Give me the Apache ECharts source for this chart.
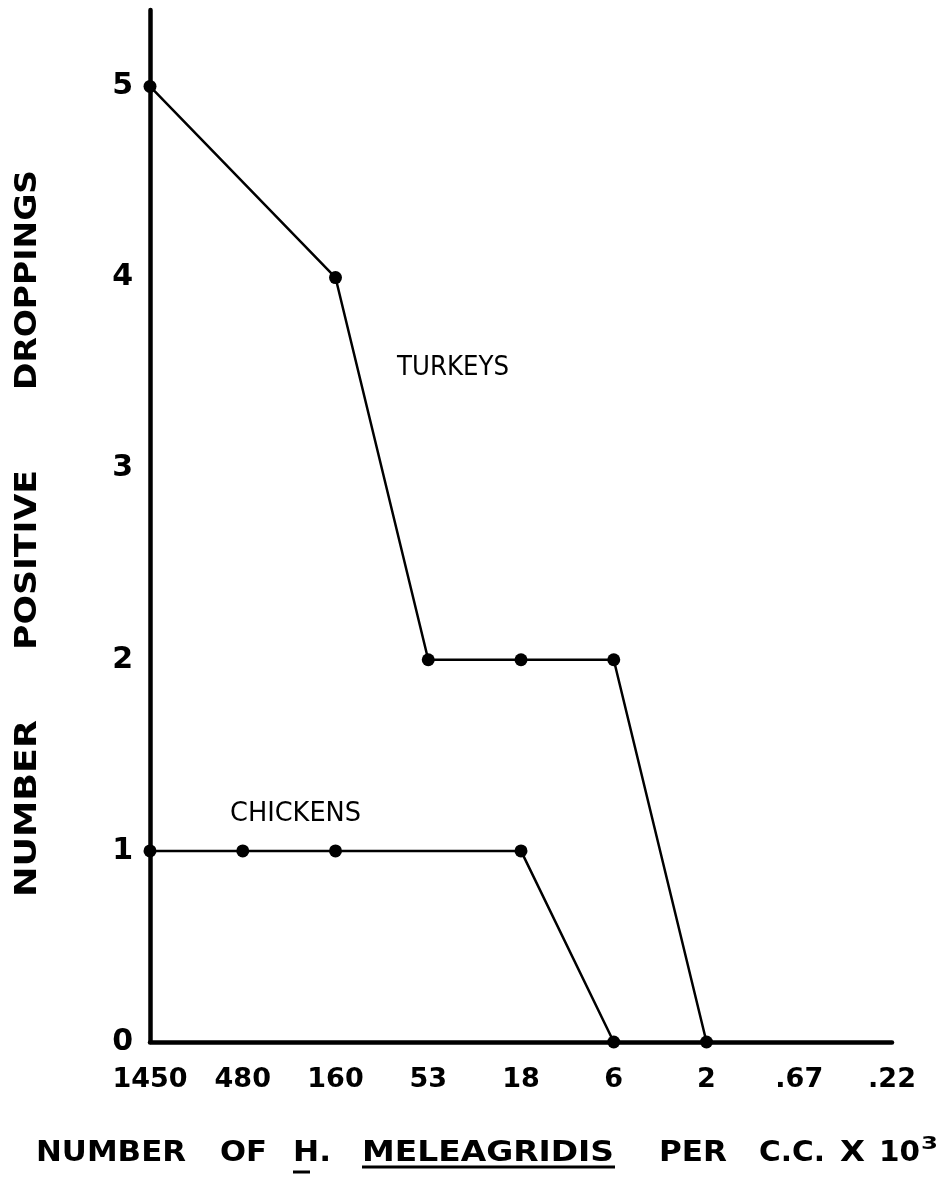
<!DOCTYPE html>
<html><head><meta charset="utf-8">
<script src="https://cdn.jsdelivr.net/npm/echarts@6/dist/echarts.min.js"></script>
<style>html,body{margin:0;padding:0;background:#fff}#c{width:947px;height:1177px}</style>
</head><body><div id="c"></div>
<script>
const categories = ['1450','480','160','53','18','6','2','.67','.22'];
const turkeys = [5, null, 4, 2, 2, 2, 0, null, null];
const chickens = [1, 1, 1, null, 1, 0, null, null, null];
const yTicks = [0,1,2,3,4,5];
const xTitleWords = ['NUMBER','OF','H.','MELEAGRIDIS','PER','C.C.','X','10','3'];
const yTitleWords = ['NUMBER','POSITIVE','DROPPINGS'];

const FONT = '"DejaVu Sans", sans-serif';
const ctx = document.createElement('canvas').getContext('2d');
function measure(t, size, weight) {
  ctx.font = (weight || 'normal') + ' ' + size + 'px ' + FONT;
  return ctx.measureText(t).width;
}
// place a word so it spans [a,b] along its reading direction
function fitWord(t, a, b, c, size, weight, vertical) {
  const w = measure(t, size, weight);
  const s = Math.abs(b - a) / w;
  const mid = (a + b) / 2;
  return {
    type: 'text', x: vertical ? c : mid, y: vertical ? mid : c,
    rotation: vertical ? Math.PI / 2 : 0,
    scaleX: s, silent: true,
    style: {text: t, fill: '#000', fontSize: size, fontWeight: weight || 'normal',
            fontFamily: FONT, align: 'center', verticalAlign: 'middle'}
  };
}
const TW = 'bold';
const graphics = [
  fitWord('TURKEYS', 397, 509, 368, 27, 'normal', false),
  fitWord('CHICKENS', 230, 361, 814, 27, 'normal', false),
  // x-axis title
  fitWord(xTitleWords[0], 36, 186, 1153, 29, TW, false),
  fitWord(xTitleWords[1], 220, 267, 1153, 29, TW, false),
  fitWord(xTitleWords[2], 293, 331, 1153, 29, TW, false),
  fitWord(xTitleWords[3], 362, 614, 1153, 29, TW, false),
  fitWord(xTitleWords[4], 659, 727, 1153, 29, TW, false),
  fitWord(xTitleWords[5], 759, 825, 1153, 29, TW, false),
  fitWord(xTitleWords[6], 840, 865, 1153, 29, TW, false),
  fitWord(xTitleWords[7], 879, 920, 1153, 29, TW, false),
  fitWord(xTitleWords[8], 921, 938, 1144, 18, 'bold', false),
  // underlines
  {type: 'line', silent: true, shape: {x1: 293, y1: 1172, x2: 310, y2: 1172}, style: {stroke: '#000', lineWidth: 3}},
  {type: 'line', silent: true, shape: {x1: 362, y1: 1167, x2: 615, y2: 1167}, style: {stroke: '#000', lineWidth: 3}},
  // y-axis title
  fitWord(yTitleWords[0], 897, 720, 28, 31, TW, true),
  fitWord(yTitleWords[1], 650, 470, 28, 31, TW, true),
  fitWord(yTitleWords[2], 390, 170, 28, 31, TW, true)
];

const chart = echarts.init(document.getElementById('c'));
chart.setOption({
  backgroundColor: '#fff',
  animation: false,
  grid: {left: 150, right: 55, top: 10, bottom: 135, containLabel: false, outerBoundsMode: 'none'},
  xAxis: {
    type: 'category', data: categories, boundaryGap: false,
    axisLine: {lineStyle: {color: '#000', width: 4.5}},
    axisTick: {show: false},
    axisLabel: {color: '#000', fontSize: 27, fontWeight: 'bold', fontFamily: FONT, margin: 24,
      interval: 0, hideOverlap: false},
    splitLine: {show: false}
  },
  yAxis: {
    type: 'value', min: 0, max: 5.4, interval: 1,
    axisLine: {show: true, lineStyle: {color: '#000', width: 4.5}},
    axisTick: {show: false},
    splitLine: {show: false},
    axisLabel: {color: '#000', fontSize: 30, fontWeight: 'bold', fontFamily: FONT, margin: 17,
      formatter: v => yTicks.includes(v) ? String(v) : ''}
  },
  series: [
    {name: 'TURKEYS', type: 'line', data: turkeys, connectNulls: true,
     symbol: 'circle', symbolSize: 13, itemStyle: {color: '#000'},
     lineStyle: {color: '#000', width: 2.5}},
    {name: 'CHICKENS', type: 'line', data: chickens, connectNulls: true,
     symbol: 'circle', symbolSize: 13, itemStyle: {color: '#000'},
     lineStyle: {color: '#000', width: 2.5}}
  ],
  graphic: graphics
});
</script></body></html>
